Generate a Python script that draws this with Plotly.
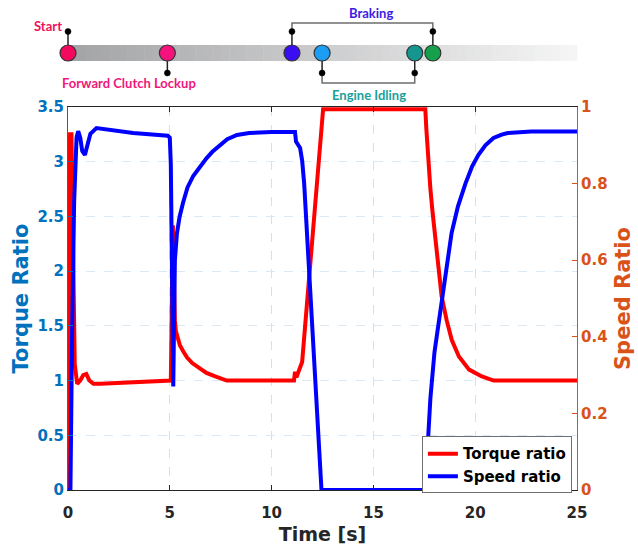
import plotly.graph_objects as go

# ---------------- data ----------------
t_torque = [0, 0.05, 0.1, 0.17, 0.25, 0.33, 0.45, 0.6, 0.75, 0.9, 1.05, 1.25, 1.6, 2.5, 3.5, 5.0,
            5.05, 5.15, 5.2, 5.25, 5.3, 5.4, 5.5, 5.65, 5.85, 6.1, 6.45, 6.8, 7.2, 7.5, 7.8,
            11.1, 11.15, 11.22, 11.35, 11.5, 12.53, 17.55, 17.6, 17.7, 17.8, 17.9, 18.05, 18.2,
            18.35, 18.6, 18.85, 19.2, 19.7, 20.3, 20.9, 25]
torque_ratio = [0, 2.6, 3.25, 3.25, 2.0, 1.15, 0.97, 1.0, 1.05, 1.06, 1.0, 0.97, 0.97, 0.98, 0.99, 1.0,
                1.0, 2.42, 1.9, 1.55, 1.45, 1.37, 1.32, 1.27, 1.21, 1.16, 1.11, 1.07, 1.04, 1.02, 1.0,
                1.0, 1.08, 1.03, 1.1, 1.17, 3.48, 3.48, 3.3, 3.0, 2.75, 2.55, 2.29, 2.02,
                1.77, 1.55, 1.37, 1.22, 1.1, 1.04, 1.0, 1.0]

t_speed = [0, 0.12, 0.2, 0.3, 0.42, 0.5, 0.6, 0.7, 0.83, 0.95, 1.1, 1.4, 2.0, 3.2, 4.9, 5.0,
           5.05, 5.12, 5.17, 5.2, 5.25, 5.35, 5.48, 5.65, 5.87, 6.15, 6.46, 6.8, 7.09, 7.45, 7.82,
           8.3, 8.9, 10.0, 11.0, 11.15, 11.2, 11.3, 11.4, 11.5, 11.6, 12.45, 17.55, 17.65, 17.8,
           18.0, 18.35, 18.6, 18.84, 19.15, 19.52, 19.85, 20.16, 20.5, 20.9, 21.3, 21.6, 22.75, 25]
speed_ratio = [0, 0, 0.4, 0.75, 0.92, 0.937, 0.92, 0.885, 0.875, 0.9, 0.93, 0.945, 0.94, 0.932, 0.925, 0.92,
               0.85, 0.45, 0.27, 0.40, 0.60, 0.67, 0.713, 0.75, 0.79, 0.82, 0.843, 0.866, 0.883, 0.90, 0.916,
               0.927, 0.932, 0.935, 0.937, 0.935, 0.91, 0.90, 0.893, 0.86, 0.80, 0.0, 0.0, 0.1, 0.24,
               0.36, 0.488, 0.585, 0.671, 0.74, 0.80, 0.845, 0.875, 0.90, 0.919, 0.928, 0.932, 0.936, 0.936]

event_times = [0.0, 4.88, 11.0, 12.48, 17.03, 17.92]
event_colors = ["#f20a5e", "#f5127c", "#3a0ef2", "#1a9df2", "#15968e", "#16a04c"]
event_side = ["up", "down", "up", "down", "down", "up"]

x_range = [0, 25]
x_ticks = [0, 5, 10, 15, 20, 25]

# ---------------- styling helpers ----------------
FONT = "DejaVu Sans"
BLUE_AX = "#0072BD"
ORANGE_AX = "#D95319"
DARK = "#262626"

def py(p):
    """convert a pixel row (from top) into paper coordinates"""
    return (490 - p) / 383.0

def px(t):
    """time value -> paper x using the x axis range"""
    return (t - x_range[0]) / (x_range[1] - x_range[0])

fig = go.Figure()
fig.add_trace(go.Scatter(x=t_torque, y=torque_ratio, mode="lines", name="Torque ratio",
                         line=dict(color="#ff0000", width=4), yaxis="y"))
fig.add_trace(go.Scatter(x=t_speed, y=speed_ratio, mode="lines", name="Speed ratio",
                         line=dict(color="#0000ff", width=4), yaxis="y2"))

shapes = []
# gradient bar
n = 60
c0 = (163, 164, 166)
c1 = (245, 245, 245)
for i in range(n):
    f = i / (n - 1)
    col = "rgb(%d,%d,%d)" % tuple(round(a + (b - a) * f) for a, b in zip(c0, c1))
    shapes.append(dict(type="rect", xref="paper", yref="paper", x0=i / n, x1=(i + 1) / n + 0.001,
                       y0=py(61), y1=py(45), fillcolor=col, line=dict(width=0), layer="below"))

# brackets
br = px(event_times[2]), px(event_times[5])
idl = px(event_times[3]), px(event_times[4])
gray = "#6d6d6d"
for xa, xb, ydot, ybr in [(br[0], br[1], 31.5, 23), (idl[0], idl[1], 73, 83)]:
    shapes.append(dict(type="path", xref="paper", yref="paper",
                       path="M %f,%f L %f,%f L %f,%f L %f,%f" % (xa, py(ydot), xa, py(ybr), xb, py(ybr), xb, py(ydot)),
                       line=dict(color=gray, width=1.5)))

# stems, dots and circles
for t, c, s in zip(event_times, event_colors, event_side):
    ydot = 31.5 if s == "up" else 73
    xp = px(t)
    shapes.append(dict(type="line", xref="paper", yref="paper", x0=xp, x1=xp, y0=py(53), y1=py(ydot),
                       line=dict(color="#222222", width=1.5)))
    shapes.append(dict(type="circle", xref="paper", yref="paper", xsizemode="pixel", ysizemode="pixel",
                       xanchor=xp, yanchor=py(ydot), x0=-3, x1=3, y0=-3, y1=3,
                       fillcolor="#000000", line=dict(color="#000000", width=0.5)))
    shapes.append(dict(type="circle", xref="paper", yref="paper", xsizemode="pixel", ysizemode="pixel",
                       xanchor=xp, yanchor=py(53), x0=-8, x1=8, y0=-8, y1=8,
                       fillcolor=c, line=dict(color="#333333", width=1.2)))

lab_font = dict(family="Lato", size=13, weight=700)
annotations = [
    dict(text="Start", x=px(-0.2), y=py(25.5), xref="paper", yref="paper", xanchor="right", yanchor="middle",
         showarrow=False, font=dict(lab_font, color="#f0105c")),
    dict(text="Forward Clutch Lockup", x=px(3.0), y=py(83), xref="paper", yref="paper", xanchor="center",
         yanchor="middle", showarrow=False, font=dict(lab_font, color="#f0167a")),
    dict(text="Braking", x=px(14.9), y=py(13), xref="paper", yref="paper", xanchor="center", yanchor="middle",
         showarrow=False, font=dict(lab_font, color="#3d1ae6")),
    dict(text="Engine Idling", x=px(14.78), y=py(95), xref="paper", yref="paper", xanchor="center",
         yanchor="middle", showarrow=False, font=dict(lab_font, color="#1aa09a")),
]

tick_font = dict(family=FONT, size=15, weight=700)
fig.update_layout(
    width=638, height=551,
    margin=dict(l=68, r=61, t=107, b=61, autoexpand=False),
    paper_bgcolor="white", plot_bgcolor="white",
    showlegend=True,
    legend=dict(x=0.99, y=0.14, xanchor="right", yanchor="top", bgcolor="white", itemwidth=30,
                bordercolor="#707070", borderwidth=1, tracegroupgap=0,
                font=dict(family=FONT, size=15, weight=700, color="black")),
    xaxis=dict(range=x_range, tickvals=x_ticks, ticks="inside", ticklen=5, tickcolor=DARK,
               showline=True, linecolor=DARK, linewidth=1, mirror="ticks", ticklabelstandoff=9,
               showgrid=True, gridcolor="#dedede", griddash="dash", gridwidth=1, zeroline=False,
               tickfont=dict(tick_font, color=DARK),
               title=dict(text="Time [s]", font=dict(family=FONT, size=19, weight=700, color=DARK), standoff=6)),
    yaxis=dict(range=[0, 3.5], dtick=0.5, ticks="inside", ticklen=5, tickcolor=BLUE_AX,
               showline=True, linecolor=BLUE_AX, linewidth=1,
               showgrid=True, gridcolor="#dbe9f4", griddash="dash", gridwidth=1, zeroline=False,
               tickfont=dict(tick_font, color=BLUE_AX),
               title=dict(text="Torque Ratio", font=dict(family=FONT, size=21, weight=700, color=BLUE_AX), standoff=3)),
    yaxis2=dict(range=[0, 1], dtick=0.2, overlaying="y", side="right", ticks="inside", ticklen=5,
                tickcolor=ORANGE_AX, showline=True, linecolor=ORANGE_AX, linewidth=1,
                showgrid=False, zeroline=False,
                tickfont=dict(tick_font, color=ORANGE_AX),
                title=dict(text="Speed Ratio", font=dict(family=FONT, size=21, weight=700, color=ORANGE_AX), standoff=8)),
    shapes=shapes,
    annotations=annotations,
)

fig.write_html("out.html")
